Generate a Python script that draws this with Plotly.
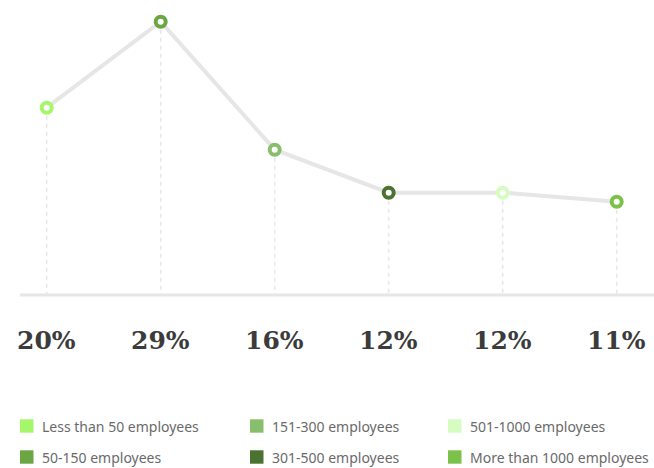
import plotly.graph_objects as go

# ---- data ----
categories = ["Less than 50 employees", "50-150 employees", "151-300 employees",
              "301-500 employees", "501-1000 employees", "More than 1000 employees"]
values = [20.4, 29.0, 16.2, 11.9, 11.9, 11.0]
labels = ["20%", "29%", "16%", "12%", "12%", "11%"]
colors = ["#a6f66a", "#6aa644", "#88bf6c", "#4a7230", "#d6fcc2", "#7cc24a"]

W, H = 654, 468
baseline = 1.67
x_idx = list(range(len(values)))

fig = go.Figure()

# dashed guide lines from each point down to the baseline
gx, gy = [], []
for i, v in zip(x_idx, values):
    gx += [i, i, None]
    gy += [v, baseline, None]
fig.add_trace(go.Scatter(x=gx, y=gy, mode="lines",
                         line=dict(color="#e6e6e6", width=1.5, dash="4px,4px"),
                         hoverinfo="skip", showlegend=False))

# main line
fig.add_trace(go.Scatter(x=x_idx, y=values, mode="lines",
                         line=dict(color="#e6e6e6", width=4),
                         hoverinfo="skip", showlegend=False))

# markers (rings)
fig.add_trace(go.Scatter(x=x_idx, y=values, mode="markers",
                         marker=dict(size=10, color="white",
                                     line=dict(color=colors, width=4)),
                         showlegend=False))

shapes = [dict(type="line", xref="paper", yref="y", x0=20 / W, x1=1,
               y0=baseline, y1=baseline, line=dict(color="#e6e6e6", width=3))]

annotations = []
for i, lab in zip(x_idx, labels):
    annotations.append(dict(x=i, y=1 - 340 / H, xref="x", yref="paper", text=lab,
                            showarrow=False, xanchor="center", yanchor="middle",
                            font=dict(family="DejaVu Serif", size=25, color="#3b3b3b",
                                      weight="bold")))

# custom legend: 3 columns x 2 rows
col_x = [20, 250, 448]
row_y = [426, 457]
order = [(0, 0, 0), (1, 0, 1), (2, 1, 0), (3, 1, 1), (4, 2, 0), (5, 2, 1)]
for k, c, r in order:
    x0 = col_x[c]
    yc = row_y[r]
    shapes.append(dict(type="rect", xref="paper", yref="paper",
                       x0=x0 / W, x1=(x0 + 13.5) / W,
                       y0=1 - (yc + 6.7) / H, y1=1 - (yc - 6.7) / H,
                       fillcolor=colors[k], line=dict(width=0)))
    annotations.append(dict(x=(x0 + 20) / W, y=1 - yc / H, xref="paper", yref="paper",
                            text=categories[k], showarrow=False,
                            xanchor="left", yanchor="middle",
                            font=dict(family="Noto Sans", size=14, color="#6a6a6a")))

fig.update_layout(
    width=W, height=H,
    margin=dict(l=0, r=0, t=0, b=0),
    paper_bgcolor="white", plot_bgcolor="white",
    xaxis=dict(range=[-46.7 / 114, (W - 46.7) / 114], visible=False, fixedrange=True),
    yaxis=dict(range=[(311.7 - H) / 10, 311.7 / 10], visible=False, fixedrange=True),
    shapes=shapes, annotations=annotations, showlegend=False,
)

fig.write_html("out.html")
